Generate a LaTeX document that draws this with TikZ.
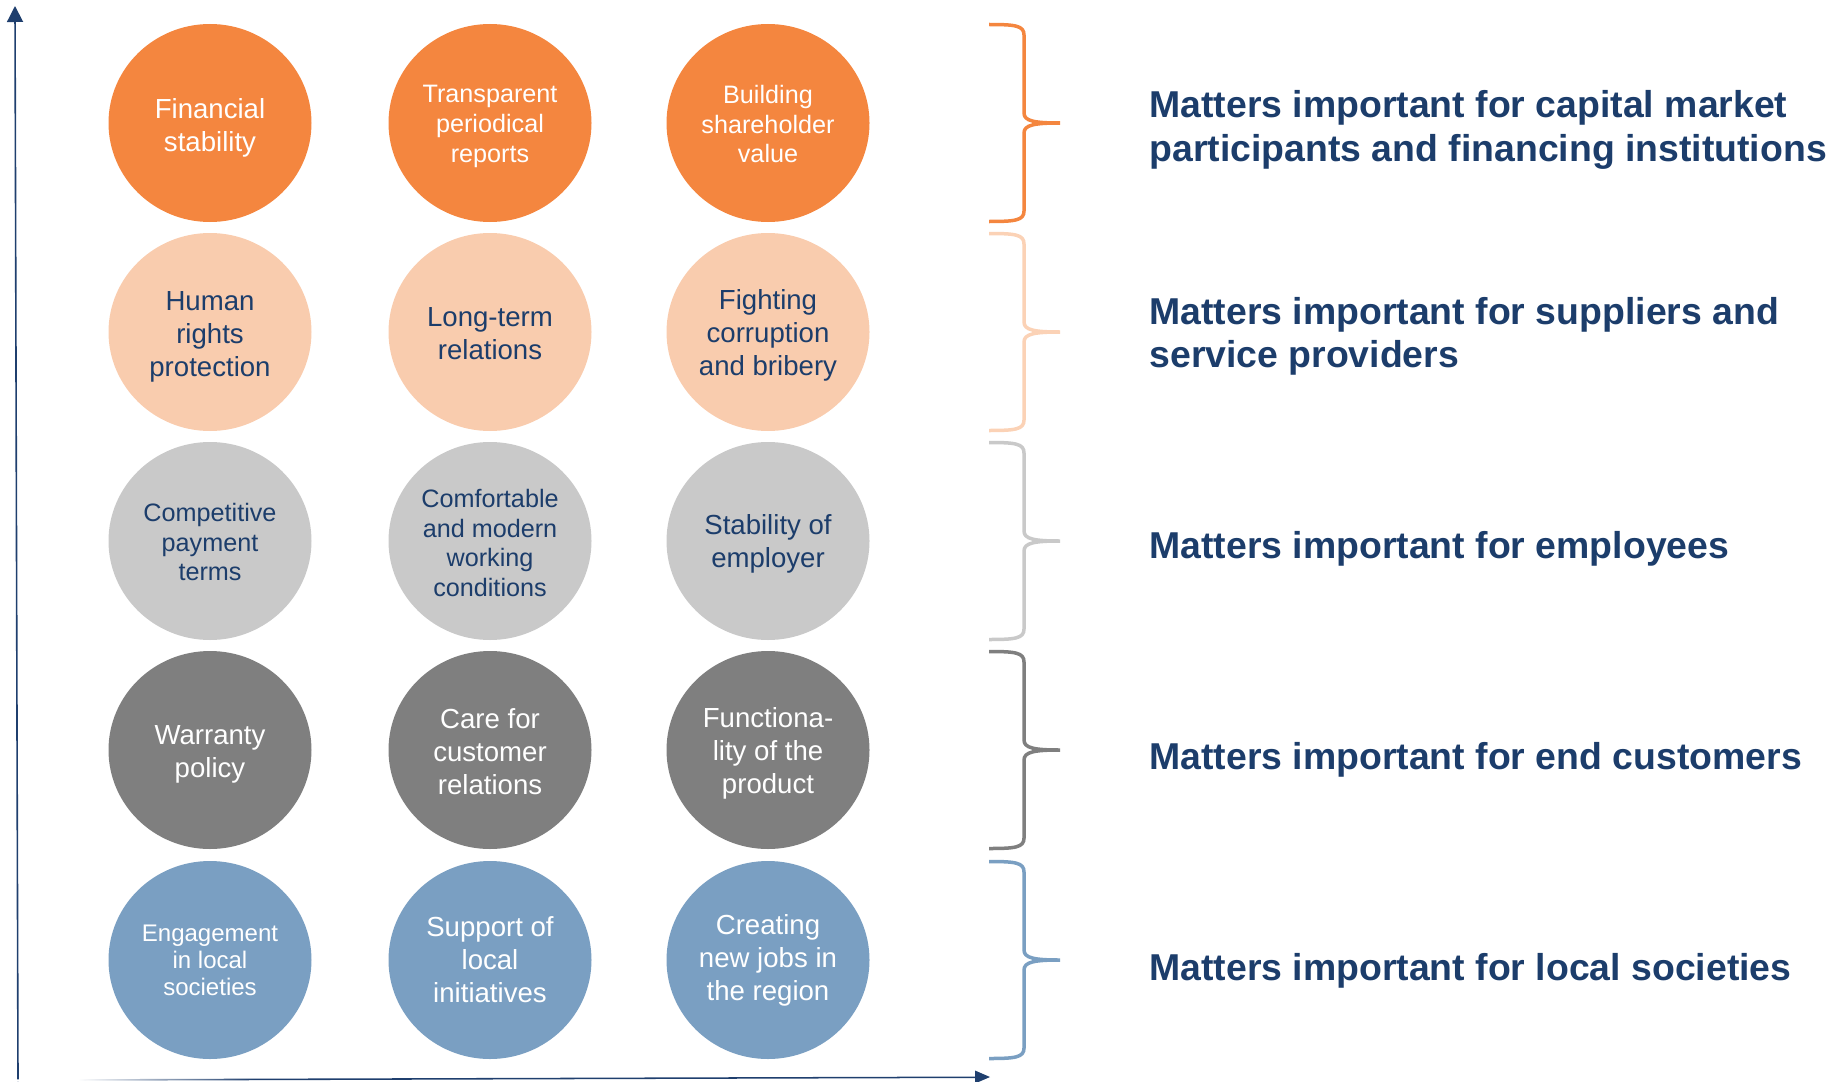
\documentclass[tikz,border=0pt]{standalone}
\usepackage{fontspec}
\setmainfont{Liberation Sans}
\usetikzlibrary{arrows.meta,shapes.geometric}
\definecolor{navy}{HTML}{1C3D6B}
\definecolor{axiscol}{HTML}{1F3F6E}
\definecolor{corange}{HTML}{F4863F}
\definecolor{cpeach}{HTML}{F9CCAE}
\definecolor{clgray}{HTML}{C9C9C9}
\definecolor{cdgray}{HTML}{7F7F7F}
\definecolor{cblue}{HTML}{7A9FC2}
\definecolor{bpeach}{HTML}{FBD2B6}
\pgfdeclarehorizontalshading{axfade}{100bp}{color(0bp)=(white); color(29bp)=(white); color(38bp)=(axiscol); color(100bp)=(axiscol)}
\newcommand\mybrace[2]{%
  \draw[bracestyle,#2] (989,{#1-98.5}) .. controls (1015,{#1-98.5}) and (1024,{#1-97.5}) .. (1024,{#1-88})
    -- (1024,{#1-10}) .. controls (1024,{#1-2}) and (1034,{#1}) .. (1060,{#1})
    .. controls (1034,{#1}) and (1024,{#1+2}) .. (1024,{#1+10})
    -- (1024,{#1+88}) .. controls (1024,{#1+97.5}) and (1015,{#1+98.5}) .. (989,{#1+98.5});}
% name, x, y, fill, text colour, font style, shift down (px), text
\newcommand\bubble[8]{%
  \node[circ, fill=#4] (#1) at (#2,#3) {};
  \node[#6, text=#5] (#1-t) at ([yshift=-#7*0.5pt]#1.center) {#8};}
\begin{document}
\begin{tikzpicture}[x=0.5pt,y=-0.5pt,
  circ/.style={ellipse, minimum width=101.5pt, minimum height=99pt, inner sep=0pt},
  bub/.style={inner sep=0pt, align=center, font=\fontsize{13.8}{16.5}\selectfont},
  bubs/.style={bub, font=\fontsize{12.6}{14.8}\selectfont},
  bubxs/.style={bub, font=\fontsize{12}{13.5}\selectfont},
  lab/.style={anchor=west, inner sep=0pt, align=left, text=navy, font=\bfseries\fontsize{18.7}{21.6}\selectfont},
  bracestyle/.style={line width=1.75pt},
  axisline/.style={draw=axiscol, line width=0.8pt}
]
\useasboundingbox (0,0) rectangle (1840,1081);
% axes
\coordinate (ybot) at (18,1081);
\coordinate (ytop) at (15,6);
\coordinate (xend) at (990,1077);
\draw[axisline, -{Triangle[length=8pt,width=8pt]}] (ybot) -- (ytop);
\shade[shading=axfade] (0,1079.4) -- (976,1076.5) -- (976,1078) -- (0,1081) -- cycle;
\fill[axiscol] (xend) -- (975,1070.5) -- (975,1083.5) -- cycle;
% row 0
\bubble{a1}{210}{123}{corange}{white}{bub}{4.5}{Financial\\stability}
\bubble{a2}{490}{123}{corange}{white}{bubs}{3.5}{Transparent\\periodical\\reports}
\bubble{a3}{768}{123}{corange}{white}{bubs}{1}{Building\\shareholder\\value}
% row 1
\bubble{b1}{210}{332}{cpeach}{navy}{bub}{4.5}{Human\\rights\\protection}
\bubble{b2}{490}{332}{cpeach}{navy}{bub}{2}{Long-term\\relations}
\bubble{b3}{768}{332}{cpeach}{navy}{bub}{3}{Fighting\\corruption\\and bribery}
% row 2
\bubble{c1}{210}{541}{clgray}{navy}{bubs}{1}{Competitive\\payment\\terms}
\bubble{c2}{490}{541}{clgray}{navy}{bubs}{2}{Comfortable\\and modern\\working\\conditions}
\bubble{c3}{768}{541}{clgray}{navy}{bub}{3}{Stability of\\employer}
% row 3
\bubble{d1}{210}{750}{cdgray}{white}{bub}{4.5}{Warranty\\policy}
\bubble{d2}{490}{750}{cdgray}{white}{bub}{2}{Care for\\customer\\relations}
\bubble{d3}{768}{750}{cdgray}{white}{bub}{3}{Functiona-\\lity of the\\product}
% row 4
\bubble{e1}{210}{960}{cblue}{white}{bubxs}{0}{Engagement\\in local\\societies}
\bubble{e2}{490}{960}{cblue}{white}{bub}{0}{Support of\\local\\initiatives}
\bubble{e3}{768}{960}{cblue}{white}{bub}{0}{Creating\\new jobs in\\the region}
% braces
\mybrace{123}{corange}
\mybrace{332}{bpeach}
\mybrace{541}{clgray}
\mybrace{750}{cdgray}
\mybrace{960}{cblue}
% labels
\node[lab] (l1) at (1149,130) {Matters important for capital market\\participants and financing institutions};
\node[lab] (l2) at (1149,336) {Matters important for suppliers and\\service providers};
\node[lab] (l3) at (1149,549) {Matters important for employees};
\node[lab] (l4) at (1149,760) {Matters important for end customers};
\node[lab] (l5) at (1149,971) {Matters important for local societies};
\end{tikzpicture}
\end{document}
